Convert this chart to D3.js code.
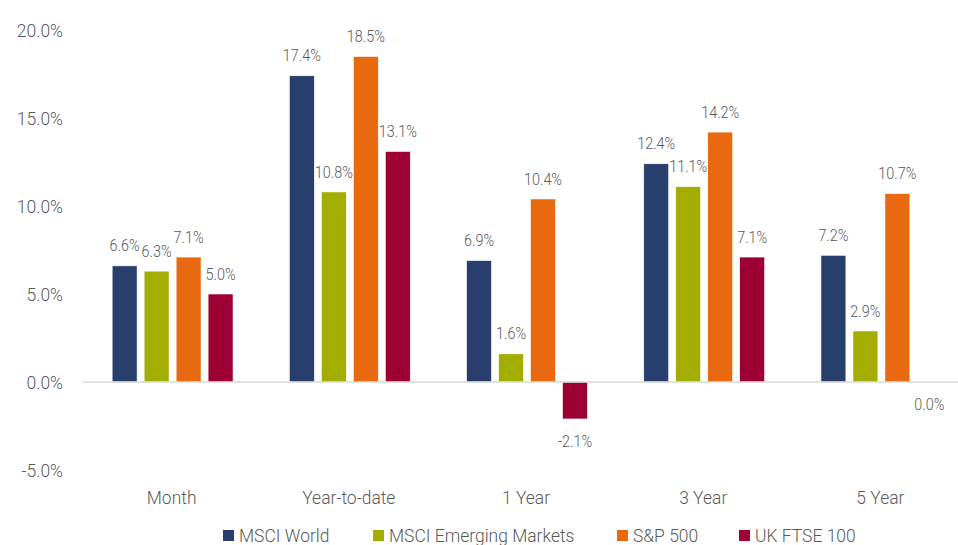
<!DOCTYPE html>
<html>
<head>
<meta charset="utf-8">
<script src="https://cdn.jsdelivr.net/npm/d3@7"></script>
<style>
  body { margin: 0; background: #fff; }
  text { font-family: "Roboto", "Liberation Sans", sans-serif; font-weight: 300; }
</style>
</head>
<body>
<div id="wrapper"></div>
<script>
const categories = ["Month", "Year-to-date", "1 Year", "3 Year", "5 Year"];
const seriesNames = ["MSCI World", "MSCI Emerging Markets", "S&P 500", "UK FTSE 100"];
const msciWorld = [6.6, 17.4, 6.9, 12.4, 7.2];
const msciEM = [6.3, 10.8, 1.6, 11.1, 2.9];
const sp500 = [7.1, 18.5, 10.4, 14.2, 10.7];
const ftse100 = [5.0, 13.1, -2.1, 7.1, 0.0];
const yTicks = [-5, 0, 5, 10, 15, 20];
const colors = ["#283e6d", "#a2ad00", "#e86910", "#9d0033"];

const series = [msciWorld, msciEM, sp500, ftse100];
const squish = 0.92; // reference uses a slightly condensed face

const width = 958, height = 545;
const svg = d3.select("#wrapper").append("svg")
  .attr("width", width).attr("height", height);

const x = d3.scaleBand().domain(categories).range([84, 970]);
const xInner = d3.scaleBand().domain(seriesNames).range([0, x.bandwidth()]).paddingInner(0.22).paddingOuter(0.88);
const y = d3.scaleLinear().domain([-5, 20]).range([470, 30]);

function place(xv, yv, s) { return `translate(${xv},${yv}) scale(${s || squish},1)`; }

// y tick labels
svg.append("g").selectAll("text").data(yTicks).join("text")
  .attr("transform", d => place(63, y(d))).attr("dy", "0.35em")
  .attr("text-anchor", "end").attr("fill", "#595959").style("font-size", "19px")
  .text(d => d.toFixed(1) + "%");

// bars
const groups = svg.append("g").selectAll("g").data(categories).join("g")
  .attr("transform", d => `translate(${x(d)},0)`);

const cells = (c, i) => seriesNames.map((s, j) => ({ s, j, v: series[j][i] }));

groups.selectAll("rect").data(cells).join("rect")
  .attr("x", d => xInner(d.s))
  .attr("width", xInner.bandwidth())
  .attr("y", d => y(Math.max(0, d.v)))
  .attr("height", d => Math.abs(y(d.v) - y(0)))
  .attr("fill", d => colors[d.j])
  .attr("stroke", "#fff").attr("stroke-width", 0.6);

groups.selectAll("text").data(cells).join("text")
  .attr("transform", d => place(xInner(d.s) + xInner.bandwidth() / 2, d.v > 0 ? y(d.v) - 20 : y(d.v) + 22, 0.9))
  .attr("dy", "0.35em")
  .attr("text-anchor", "middle").attr("fill", "#595959").style("font-size", "16px")
  .text(d => d.v.toFixed(1) + "%");

// zero line
svg.append("line")
  .attr("x1", 83).attr("x2", 958).attr("y1", y(0)).attr("y2", y(0))
  .attr("stroke", "#d9d9d9").attr("stroke-width", 1.5);

// x axis labels
svg.append("g").selectAll("text").data(categories).join("text")
  .attr("transform", d => place(x(d) + x.bandwidth() / 2 - 1, 497)).attr("dy", "0.35em")
  .attr("text-anchor", "middle").attr("fill", "#595959").style("font-size", "19px")
  .text(d => d);

// legend
const legendX = [223, 373, 617, 739];
const legend = svg.append("g").selectAll("g").data(seriesNames).join("g")
  .attr("transform", (d, i) => `translate(${legendX[i]},535.5)`);
legend.append("rect").attr("x", 0).attr("y", -5.5).attr("width", 11).attr("height", 11)
  .attr("fill", (d, i) => colors[i]);
legend.append("text").attr("transform", place(16, 0)).attr("dy", "0.35em")
  .attr("fill", "#595959").style("font-size", "19px").text(d => d);
</script>
</body>
</html>
